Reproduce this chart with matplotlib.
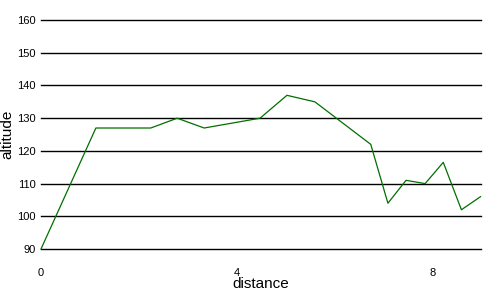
import matplotlib
matplotlib.use("Agg")
from matplotlib import pyplot as plt

## altitude profile
distance = [0, 1.12, 2.24, 2.78, 3.33, 4.47, 5.02, 5.59, 6.73, 7.08, 7.45, 7.84, 8.21, 8.58, 8.97]
altitude = [90, 127, 127, 130, 127, 130, 137, 135, 122, 104, 111, 110, 116.5, 102, 106]
yticks = [90, 100, 110, 120, 130, 140, 150, 160]
xticks = [0, 4, 8]

plt.rcParams["font.family"] = ["Liberation Sans", "DejaVu Sans"]

fig = plt.figure(figsize=(5, 3), dpi=100)
ax = fig.add_axes([0.082, 0.17, 0.88, 0.763])

for y in yticks:
    ax.axhline(y, color="black", lw=1.0, zorder=1, clip_on=False)
ax.plot(distance, altitude, color="#006f00", lw=0.9, zorder=2, clip_on=False)

ax.set_xlim(0, 8.98)
ax.set_ylim(90, 160)
ax.set_yticks(yticks)
ax.set_xticks(xticks)
for s in ax.spines.values():
    s.set_visible(False)
ax.tick_params(axis="both", length=0, labelsize=8)
ax.tick_params(axis="y", pad=4)
ax.tick_params(axis="x", pad=14)
ax.set_xlabel("distance", fontsize=11, labelpad=-1)
ax.set_ylabel("altitude", fontsize=11, labelpad=2)

fig.savefig("out.png", dpi=100)
